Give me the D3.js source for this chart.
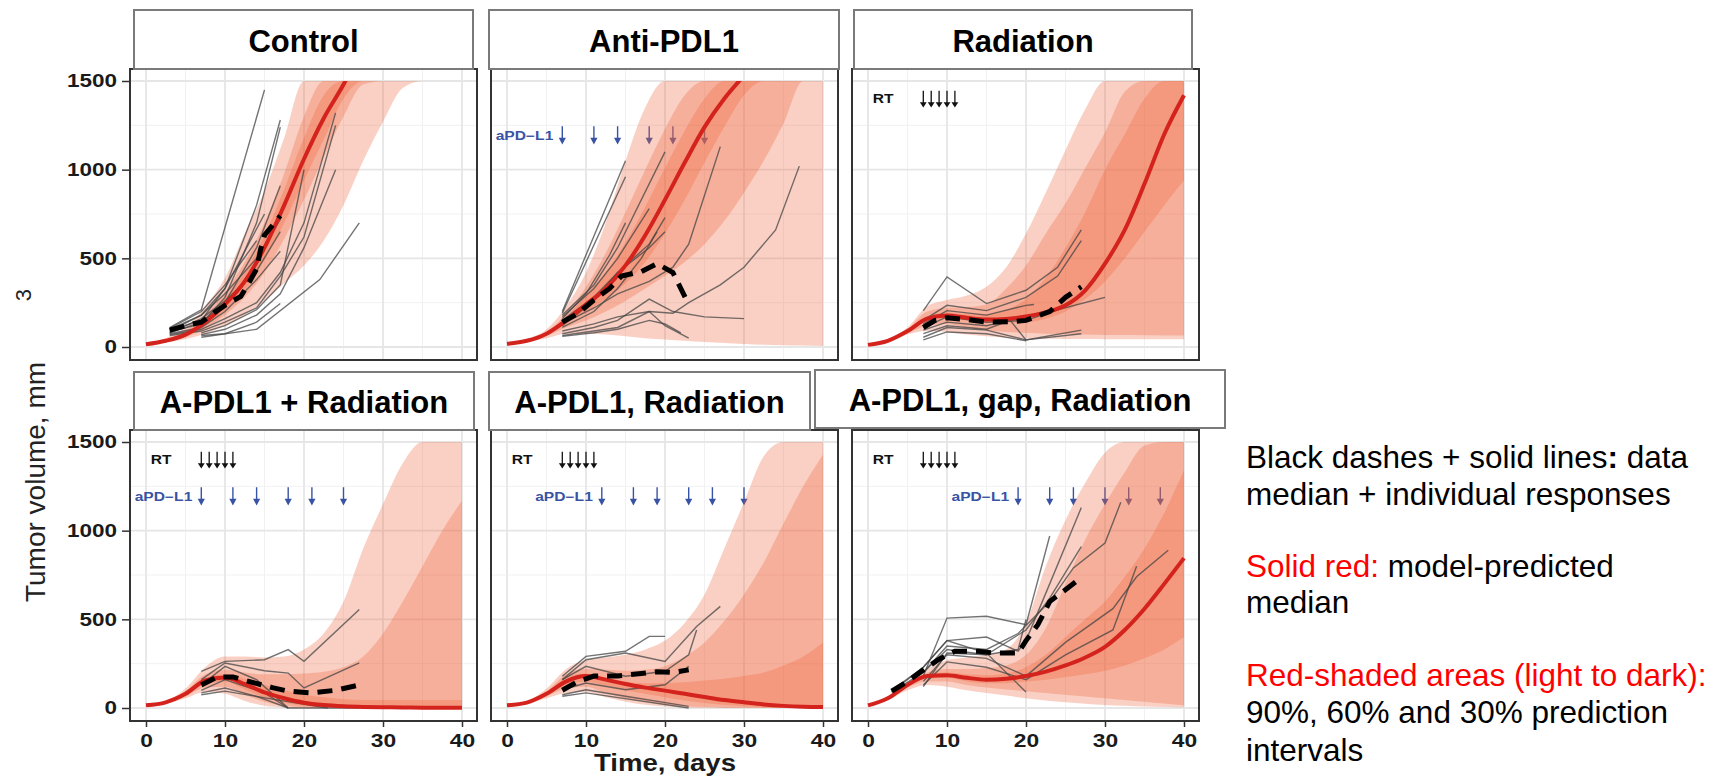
<!DOCTYPE html>
<html>
<head>
<meta charset="utf-8">
<script src="https://cdn.jsdelivr.net/npm/d3@7"></script>
<style>
  body { margin: 0; background: #fff; }
  text { font-family: "Liberation Sans", Arial, sans-serif; }
</style>
</head>
<body>
<script>
// ---- data ----
const days = [0, 2.5, 5, 7.5, 10, 12.5, 15, 17.5, 20, 22.5, 25, 27.5, 30, 32.5, 35, 37.5, 40];
const xTicks = [0, 10, 20, 30, 40];
const yTicks = [0, 500, 1000, 1500];
const panelTitles = ["Control", "Anti-PDL1", "Radiation", "A-PDL1 + Radiation", "A-PDL1, Radiation", "A-PDL1, gap, Radiation"];
const rtDays = [7, 8, 9, 10, 11];

// Control
const controlMed  = [15, 35, 70, 140, 240, 370, 560, 800, 1060, 1290, 1480, 1700, null, null, null, null, null];
const controlHi90 = [20, 50, 110, 230, 390, 640, 880, 1180, 1500, 1500, 1500, 1500, 1500, 1500, 1500, 1500, 1500];
const controlLo90 = [12, 25, 45, 75, 120, 180, 260, 360, 460, 600, 800, 1050, 1270, 1460, 1500, 1500, 1500];
const controlHi60 = [18, 42, 90, 180, 310, 480, 700, 980, 1300, 1500, 1500, 1500, 1500, 1500, 1500, 1500, 1500];
const controlLo60 = [13, 30, 55, 105, 180, 280, 420, 610, 830, 1070, 1300, 1480, 1500, 1500, 1500, 1500, 1500];
const controlHi30 = [16, 38, 80, 160, 275, 420, 630, 890, 1180, 1420, 1500, 1500, 1500, 1500, 1500, 1500, 1500];
const controlLo30 = [14, 33, 62, 122, 210, 320, 490, 700, 940, 1170, 1400, 1500, 1500, 1500, 1500, 1500, 1500];
const controlLines = [
  [[3, 110], [7, 210], [15, 1450]],
  [[3, 95], [7, 150], [10, 330], [14, 800], [17, 1280]],
  [[3, 85], [7, 130], [10, 280], [14, 700], [17, 1240]],
  [[3, 80], [7, 140], [10, 250], [14, 560], [17, 910]],
  [[3, 75], [7, 110], [10, 200], [14, 380], [17, 540]],
  [[3, 100], [7, 180], [10, 330], [15, 750]],
  [[3, 70], [7, 100], [10, 160], [14, 250], [17, 420], [20, 700], [24, 1320]],
  [[3, 65], [7, 90], [10, 140], [14, 220], [17, 400], [20, 620], [24, 1250]],
  [[7, 80], [10, 120], [14, 210], [17, 350], [20, 1000]],
  [[7, 55], [14, 100], [22, 380], [27, 700]],
  [[7, 65], [10, 75], [14, 140], [17, 245]],
  [[3, 90], [7, 180], [10, 300], [14, 500], [17, 720]],
  [[3, 105], [7, 200], [10, 350], [14, 600]],
  [[3, 80], [7, 160], [10, 260], [14, 430], [17, 650]],
  [[7, 70], [10, 100], [14, 180], [17, 300], [20, 560], [24, 1000]]
];
const controlDash = [[3, 95], [5, 120], [7, 140], [9, 205], [10, 235], [12, 285], [13, 360], [14, 440], [14.5, 550], [15, 630], [17, 740]];

// Anti-PDL1
const antiMed  = [18, 35, 75, 150, 240, 330, 460, 630, 830, 1040, 1240, 1400, 1530, null, null, null, null];
const antiHi90 = [22, 45, 100, 230, 420, 700, 1050, 1350, 1500, 1500, 1500, 1500, 1500, 1500, 1500, 1500, 1500];
const antiLo90 = [15, 28, 50, 75, 75, 70, 60, 50, 42, 35, 28, 22, 17, 13, 10, 8, 6];
const antiHi60 = [20, 40, 85, 190, 340, 530, 760, 1000, 1230, 1420, 1500, 1500, 1500, 1500, 1500, 1500, 1500];
const antiLo60 = [16, 31, 62, 110, 150, 200, 260, 330, 400, 480, 580, 710, 870, 1050, 1260, 1500, 1500];
const antiHi30 = [19, 37, 80, 170, 290, 420, 590, 790, 1010, 1220, 1400, 1500, 1500, 1500, 1500, 1500, 1500];
const antiLo30 = [17, 33, 70, 130, 200, 270, 360, 480, 640, 830, 1040, 1240, 1420, 1500, 1500, 1500, 1500];
const antiLines = [
  [[7, 200], [15, 1050]],
  [[7, 190], [15, 960]],
  [[7, 180], [11, 350], [14, 560], [20, 1100]],
  [[7, 170], [11, 330], [14, 500], [18, 780]],
  [[7, 150], [11, 280], [14, 420], [18, 580], [20, 730]],
  [[7, 130], [11, 220], [14, 300], [18, 370], [21, 450], [23, 580], [27, 1130]],
  [[7, 90], [11, 130], [14, 170], [18, 200], [21, 190], [23, 250], [27, 350], [30, 450], [34, 660], [37, 1020]],
  [[7, 75], [11, 110], [14, 150], [18, 270], [21, 200], [25, 170], [30, 160]],
  [[7, 65], [11, 90], [14, 110], [18, 200], [20, 120], [23, 50]],
  [[7, 60], [11, 80], [14, 100], [18, 150], [20, 130], [22, 80]],
  [[7, 110], [11, 200], [14, 330], [17, 500], [19, 650]],
  [[7, 160], [10, 300], [13, 520], [15, 700]],
  [[7, 120], [11, 260], [14, 420], [18, 560], [20, 650]]
];
const antiDash = [[7, 140], [9, 190], [11, 265], [13, 330], [14.5, 400], [17, 425], [19, 470], [21, 420], [23, 240]];
const antiDoses = [7, 11, 14, 18, 21, 25];

// Radiation
const radMed  = [12, 35, 90, 160, 178, 165, 155, 158, 172, 195, 235, 320, 470, 660, 920, 1200, 1420];
const radHi90 = [14, 42, 110, 230, 265, 290, 340, 450, 640, 870, 1110, 1340, 1500, 1500, 1500, 1500, 1500];
const radLo90 = [10, 27, 70, 90, 85, 70, 60, 52, 48, 46, 45, 45, 44, 44, 44, 44, 44];
const radHi60 = [13, 39, 100, 200, 220, 225, 240, 330, 460, 640, 810, 1010, 1210, 1440, 1500, 1500, 1500];
const radLo60 = [11, 30, 78, 120, 130, 110, 95, 85, 80, 75, 72, 70, 68, 67, 66, 65, 65];
const radHi30 = [12.5, 37, 95, 175, 195, 185, 185, 210, 270, 390, 560, 760, 1000, 1200, 1400, 1500, 1500];
const radLo30 = [11.5, 33, 85, 145, 160, 150, 140, 138, 140, 160, 200, 270, 370, 500, 650, 800, 940];
const radLines = [
  [[7, 205], [10, 395], [15, 245], [20, 320], [24, 450], [27, 660]],
  [[7, 150], [10, 235], [15, 205], [20, 280], [24, 400], [27, 600]],
  [[7, 130], [10, 205], [15, 180], [20, 235], [21, 240]],
  [[7, 110], [10, 170], [15, 140], [20, 150], [24, 210], [30, 280]],
  [[7, 75], [10, 120], [15, 100], [18, 150], [20, 40], [27, 95]],
  [[7, 55], [10, 110], [15, 95], [20, 40], [27, 75]],
  [[7, 40], [10, 85], [15, 75], [20, 35]],
  [[7, 95], [10, 140], [15, 120], [20, 170], [23, 210]]
];
const radDash = [[7, 110], [8.5, 150], [10, 165], [13, 152], [15, 140], [18, 142], [20, 150], [23, 200], [25, 280], [27, 340]];

// A-PDL1 + Radiation
const combMed  = [15, 32, 80, 155, 172, 135, 88, 55, 30, 17, 10, 6, 4, 3, 2, 2, 2];
const combHi90 = [17, 38, 110, 230, 290, 290, 285, 290, 330, 420, 600, 900, 1150, 1380, 1500, 1500, 1500];
const combLo90 = [13, 24, 55, 90, 80, 40, 12, 3, 0, 0, 0, 0, 0, 0, 0, 0, 0];
const combHi60 = [16, 34, 95, 190, 215, 200, 190, 190, 195, 205, 230, 290, 420, 600, 800, 1000, 1170];
const combLo60 = [14, 27, 65, 115, 120, 75, 35, 12, 4, 1, 0, 0, 0, 0, 0, 0, 0];
const combHi30 = [15.5, 33, 88, 170, 190, 165, 130, 100, 75, 60, 50, 45, 45, 45, 45, 45, 45];
const combLo30 = [14.5, 30, 72, 135, 150, 105, 60, 30, 12, 5, 2, 1, 0, 0, 0, 0, 0];
const combLines = [
  [[7, 207], [10, 263], [15, 272], [18, 329], [20, 263], [27, 555]],
  [[7, 160], [10, 254], [15, 210], [18, 197], [20, 113], [27, 254]],
  [[7, 130], [10, 235], [14, 160], [18, 0]],
  [[7, 100], [10, 160], [15, 85], [18, 0], [27, 0]],
  [[7, 85], [10, 113], [14, 66], [18, 0]],
  [[7, 75], [10, 95], [16, 50], [23, 0]]
];
const combDash = [[7, 130], [9, 175], [11, 175], [13, 150], [16, 115], [18, 95], [21, 85], [24, 100], [27, 130]];
const combDoses = [7, 11, 14, 18, 21, 25];

// A-PDL1, Radiation
const seqMed  = [15, 30, 80, 150, 180, 160, 135, 115, 98, 80, 62, 45, 32, 20, 12, 7, 5];
const seqHi90 = [17, 38, 110, 220, 270, 285, 300, 330, 380, 480, 640, 900, 1160, 1420, 1500, 1500, 1500];
const seqLo90 = [13, 23, 55, 85, 90, 60, 35, 18, 8, 3, 1, 0, 0, 0, 0, 0, 0];
const seqHi60 = [16, 34, 95, 190, 220, 215, 210, 215, 235, 290, 370, 490, 640, 820, 1040, 1250, 1430];
const seqLo60 = [14, 26, 65, 110, 120, 85, 55, 35, 20, 10, 5, 2, 1, 0, 0, 0, 0];
const seqHi30 = [15.5, 32, 88, 170, 195, 170, 150, 140, 140, 145, 155, 165, 180, 200, 240, 290, 370];
const seqLo30 = [14.5, 28, 72, 130, 150, 125, 100, 80, 60, 42, 28, 18, 10, 6, 3, 2, 1];
const seqLines = [
  [[7, 179], [10, 291], [15, 320], [18, 404], [20, 404]],
  [[7, 160], [10, 272], [15, 310], [20, 263], [24, 460], [27, 573]],
  [[7, 160], [10, 235], [15, 179], [20, 207], [23, 300], [24, 440]],
  [[7, 75], [10, 103], [15, 66], [23, 9]],
  [[7, 66], [10, 85], [23, 0]],
  [[7, 103], [10, 141], [15, 103], [20, 131], [23, 235]]
];
const seqDash = [[7, 100], [9, 150], [11, 180], [14, 180], [17, 195], [19, 205], [21, 200], [23, 215]];
const seqDoses = [12, 16, 19, 23, 26, 30];

// A-PDL1, gap, Radiation
const gapMed  = [15, 55, 130, 180, 185, 170, 160, 165, 180, 205, 240, 285, 345, 440, 560, 700, 845];
const gapHi90 = [16, 60, 150, 220, 270, 285, 300, 330, 480, 800, 1060, 1270, 1440, 1500, 1500, 1500, 1500];
const gapLo90 = [14, 45, 100, 130, 120, 100, 85, 70, 55, 42, 32, 24, 17, 12, 8, 5, 3];
const gapHi60 = [15.5, 57, 140, 200, 220, 220, 225, 240, 300, 450, 700, 950, 1150, 1330, 1480, 1500, 1500];
const gapLo60 = [14.5, 50, 115, 150, 150, 130, 115, 105, 95, 85, 75, 65, 55, 45, 35, 25, 15];
const gapHi30 = [15.2, 56, 135, 190, 200, 190, 185, 195, 230, 300, 400, 500, 600, 740, 900, 1100, 1340];
const gapLo30 = [14.8, 53, 125, 165, 170, 150, 140, 140, 150, 160, 175, 190, 210, 240, 280, 330, 400];
const gapLines = [
  [[7, 180], [10, 507], [15, 517], [20, 470], [23, 970]],
  [[3, 90], [7, 230], [10, 380], [15, 400], [19, 320], [20, 380], [23, 700], [27, 1130]],
  [[3, 90], [7, 200], [10, 350], [15, 330], [19, 420], [23, 600], [26, 790], [30, 930], [32, 1160]],
  [[7, 150], [10, 300], [15, 280], [20, 180], [25, 370], [31, 560], [34, 740], [38, 890]],
  [[7, 130], [10, 260], [15, 230], [20, 160], [25, 300], [31, 440], [34, 800]],
  [[3, 100], [7, 230], [10, 380], [15, 310], [20, 90]],
  [[7, 200], [10, 330], [15, 300], [20, 440], [23, 620], [27, 910]],
  [[7, 120], [10, 310], [15, 300], [19, 330], [20, 500]]
];
const gapDash = [[3, 95], [5, 150], [7, 215], [9, 275], [11, 320], [14, 320], [16, 310], [19, 310], [20, 380], [21.5, 470], [23, 600], [24.5, 650], [27, 735]];
const gapDoses = [19, 23, 26, 30, 33, 37];

// ---- layout ----
const W = 1723, H = 780;
const colX = [130, 491, 852], rowY = [69, 430];
const pw = 347, ph = 291;
const strips = [
  {x: 134, y: 10, w: 339, h: 59}, {x: 489, y: 10, w: 350, h: 59}, {x: 854, y: 10, w: 338, h: 59},
  {x: 134, y: 372, w: 340, h: 58}, {x: 489, y: 372, w: 321, h: 58}, {x: 815, y: 370, w: 410, h: 58}
];

const panels = [
  {col: 0, row: 0, med: controlMed, b90: [controlLo90, controlHi90], b60: [controlLo60, controlHi60], b30: [controlLo30, controlHi30], lines: controlLines, dash: controlDash, doses: null, rt: false},
  {col: 1, row: 0, med: antiMed, b90: [antiLo90, antiHi90], b60: [antiLo60, antiHi60], b30: [antiLo30, antiHi30], lines: antiLines, dash: antiDash, doses: antiDoses, rt: false},
  {col: 2, row: 0, med: radMed, b90: [radLo90, radHi90], b60: [radLo60, radHi60], b30: [radLo30, radHi30], lines: radLines, dash: radDash, doses: null, rt: true},
  {col: 0, row: 1, med: combMed, b90: [combLo90, combHi90], b60: [combLo60, combHi60], b30: [combLo30, combHi30], lines: combLines, dash: combDash, doses: combDoses, rt: true},
  {col: 1, row: 1, med: seqMed, b90: [seqLo90, seqHi90], b60: [seqLo60, seqHi60], b30: [seqLo30, seqHi30], lines: seqLines, dash: seqDash, doses: seqDoses, rt: true},
  {col: 2, row: 1, med: gapMed, b90: [gapLo90, gapHi90], b60: [gapLo60, gapHi60], b30: [gapLo30, gapHi30], lines: gapLines, dash: gapDash, doses: gapDoses, rt: true}
];

const svg = d3.select("body").append("svg")
  .attr("width", W)
  .attr("height", H);

const defs = svg.append("defs");
const bandFill = "rgb(238,100,60)";
const blue = "#3953a4";

panels.forEach((p, i) => {
  const px = colX[p.col], py = rowY[p.row];
  const x = d3.scaleLinear().domain([0, 40]).range([px + 16, px + 332]);
  const y = d3.scaleLinear().domain([0, 1500]).range([py + 278, py + 12]);
  const g = svg.append("g");

  defs.append("clipPath").attr("id", "clip" + i)
    .append("rect")
    .attr("x", px).attr("y", y(1500))
    .attr("width", pw).attr("height", py + ph - y(1500));

  g.append("rect")
    .attr("x", px).attr("y", py).attr("width", pw).attr("height", ph)
    .attr("fill", "#fff");

  // grid
  [5, 15, 25, 35].forEach(d => {
    g.append("line").attr("x1", x(d)).attr("x2", x(d)).attr("y1", py).attr("y2", py + ph)
      .attr("stroke", "#f1f1f1").attr("stroke-width", 1);
  });
  [250, 750, 1250].forEach(d => {
    g.append("line").attr("x1", px).attr("x2", px + pw).attr("y1", y(d)).attr("y2", y(d))
      .attr("stroke", "#f1f1f1").attr("stroke-width", 1);
  });
  xTicks.forEach(d => {
    g.append("line").attr("x1", x(d)).attr("x2", x(d)).attr("y1", py).attr("y2", py + ph)
      .attr("stroke", "#e6e6e6").attr("stroke-width", 1.8);
  });
  yTicks.forEach(d => {
    g.append("line").attr("x1", px).attr("x2", px + pw).attr("y1", y(d)).attr("y2", y(d))
      .attr("stroke", "#e6e6e6").attr("stroke-width", 1.8);
  });

  // treatment arrows (under the bands so they get tinted)
  const arrows = g.append("g");
  if (p.rt) {
    arrows.append("g").attr("transform", `translate(${x(0.6)},${y(1400)})`)
      .append("text")
      .attr("transform", "scale(1.25,1)")
      .attr("dy", "0.35em")
      .style("font-size", "12.5px").style("font-weight", "bold")
      .attr("fill", "#111")
      .text("RT");
    rtDays.forEach(d => {
      arrows.append("line")
        .attr("x1", x(d)).attr("x2", x(d))
        .attr("y1", y(1445)).attr("y2", y(1370))
        .attr("stroke", "#111").attr("stroke-width", 1.3);
      arrows.append("path")
        .attr("d", `M${x(d) - 3.4},${y(1380)}L${x(d) + 3.4},${y(1380)}L${x(d)},${y(1350)}Z`)
        .attr("fill", "#111");
    });
  }
  if (p.doses) {
    arrows.append("g").attr("transform", `translate(${x(p.doses[0]) - 9},${y(1190)})`)
      .append("text")
      .attr("transform", "scale(1.3,1)")
      .attr("text-anchor", "end")
      .attr("dy", "0.35em")
      .style("font-size", "12px").style("font-weight", "bold")
      .attr("fill", blue)
      .text("aPD\u2212L1");
    p.doses.forEach(d => {
      arrows.append("line")
        .attr("x1", x(d)).attr("x2", x(d))
        .attr("y1", y(1245)).attr("y2", y(1165))
        .attr("stroke", blue).attr("stroke-width", 1.4);
      arrows.append("path")
        .attr("d", `M${x(d) - 3.6},${y(1180)}L${x(d) + 3.6},${y(1180)}L${x(d)},${y(1142)}Z`)
        .attr("fill", blue);
    });
  }

  // prediction bands
  const plot = g.append("g").attr("clip-path", `url(#clip${i})`);
  [p.b90, p.b60, p.b30].forEach(b => {
    const area = d3.area()
      .x((d, k) => x(days[k]))
      .y0((d, k) => y(Math.min(b[0][k], 1500)))
      .y1((d, k) => y(Math.min(b[1][k], 1500)))
      .curve(d3.curveMonotoneX);
    plot.append("path")
      .datum(days)
      .attr("d", area)
      .attr("fill", bandFill)
      .attr("fill-opacity", 0.3);
  });

  // individual responses
  const lineGen = d3.line().x(d => x(d[0])).y(d => y(d[1]));
  plot.selectAll(".indiv")
    .data(p.lines)
    .join("path")
    .attr("class", "indiv")
    .attr("d", lineGen)
    .attr("fill", "none")
    .attr("stroke", "#444")
    .attr("stroke-opacity", 0.75)
    .attr("stroke-width", 1.4);

  // model median
  const medLine = d3.line()
    .defined(d => d[1] != null)
    .x(d => x(d[0])).y(d => y(d[1]))
    .curve(d3.curveMonotoneX);
  plot.append("path")
    .datum(days.map((d, k) => [d, p.med[k]]))
    .attr("d", medLine)
    .attr("fill", "none")
    .attr("stroke", "#d4221d")
    .attr("stroke-width", 4);

  // data median
  plot.append("path")
    .datum(p.dash)
    .attr("d", lineGen)
    .attr("fill", "none")
    .attr("stroke", "#000")
    .attr("stroke-width", 5)
    .attr("stroke-dasharray", "15 9");

  // border
  g.append("rect")
    .attr("x", px).attr("y", py).attr("width", pw).attr("height", ph)
    .attr("fill", "none").attr("stroke", "#333").attr("stroke-width", 2);

  // axes
  if (p.col === 0) {
    const gy = g.append("g")
      .attr("transform", `translate(${px},0)`)
      .attr("color", "#333")
      .call(d3.axisLeft(y).tickValues(yTicks).tickFormat(d3.format("d")).tickSize(8).tickPadding(5));
    gy.select(".domain").remove();
    gy.selectAll(".tick line").attr("stroke-width", 1.5);
    gy.selectAll(".tick text")
      .attr("x", -13 / 1.25)
      .attr("transform", "scale(1.25,1)")
      .attr("fill", "#1a1a1a")
      .style("font-size", "18px").style("font-weight", "bold")
      .style("font-family", "'Liberation Sans', Arial, sans-serif");
  }
  if (p.row === 1) {
    const gx = g.append("g")
      .attr("transform", `translate(0,${py + ph})`)
      .attr("color", "#333")
      .call(d3.axisBottom(x).tickValues(xTicks).tickFormat(d3.format("d")).tickSize(6).tickPadding(7));
    gx.select(".domain").remove();
    gx.selectAll(".tick line").attr("stroke-width", 1.5);
    gx.selectAll(".tick text")
      .attr("transform", "scale(1.2,1)")
      .attr("fill", "#1a1a1a")
      .style("font-size", "19px").style("font-weight", "bold")
      .style("font-family", "'Liberation Sans', Arial, sans-serif");
  }
});

// strip labels
strips.forEach((s, i) => {
  svg.append("rect")
    .attr("x", s.x).attr("y", s.y).attr("width", s.w).attr("height", s.h)
    .attr("fill", "#fff").attr("stroke", "#7a7a7a").attr("stroke-width", 2);
  svg.append("text")
    .attr("x", s.x + s.w / 2)
    .attr("y", s.y + s.h / 2 + 12)
    .attr("text-anchor", "middle")
    .style("font-size", "31px").style("font-weight", "bold")
    .attr("fill", "#000")
    .text(panelTitles[i]);
});

// axis titles
svg.append("text")
  .attr("transform", "translate(45,482) rotate(-90)")
  .attr("text-anchor", "middle")
  .style("font-size", "28px")
  .attr("fill", "#222")
  .text("Tumor volume, mm");
svg.append("text")
  .attr("transform", "translate(31,295) rotate(-90)")
  .attr("text-anchor", "middle")
  .style("font-size", "22px")
  .attr("fill", "#222")
  .text("3");
svg.append("g").attr("transform", "translate(665,771)")
  .append("text")
  .attr("transform", "scale(1.2,1)")
  .attr("text-anchor", "middle")
  .style("font-size", "23px").style("font-weight", "bold")
  .attr("fill", "#1a1a1a")
  .text("Time, days");

// legend notes
const notes = svg.append("g").style("font-size", "31.5px");
const lx = 1246;
let t = notes.append("text").attr("x", lx).attr("y", 468).attr("fill", "#000");
t.append("tspan").text("Black dashes + solid lines");
t.append("tspan").style("font-weight", "bold").text(":");
t.append("tspan").text(" data");
notes.append("text").attr("x", lx).attr("y", 505).attr("fill", "#000").text("median + individual responses");
t = notes.append("text").attr("x", lx).attr("y", 577);
t.append("tspan").attr("fill", "#ff0000").text("Solid red: ");
t.append("tspan").attr("fill", "#000").text("model-predicted");
notes.append("text").attr("x", lx).attr("y", 613).attr("fill", "#000").text("median");
notes.append("text").attr("x", lx).attr("y", 686).attr("fill", "#ff0000").text("Red-shaded areas (light to dark):");
notes.append("text").attr("x", lx).attr("y", 723).attr("fill", "#000").text("90%, 60% and 30% prediction");
notes.append("text").attr("x", lx).attr("y", 761).attr("fill", "#000").text("intervals");
</script>
</body>
</html>
